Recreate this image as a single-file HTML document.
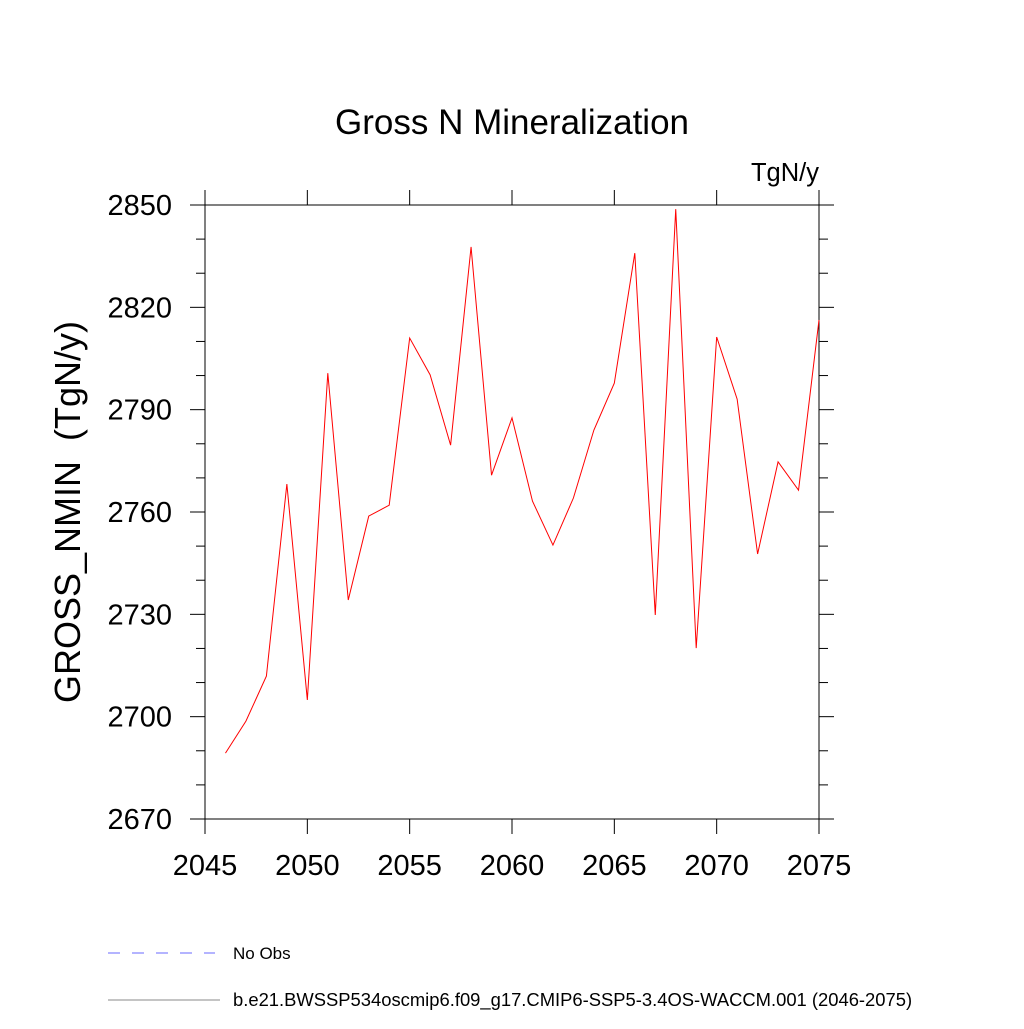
<!DOCTYPE html>
<html><head><meta charset="utf-8"><style>
body{margin:0;background:#fff}
svg text{font-family:"Liberation Sans",sans-serif}
</style></head><body>
<svg id="chart" width="1024" height="1024" xmlns="http://www.w3.org/2000/svg">
<text x="512" y="134" font-size="35" text-anchor="middle">Gross N Mineralization</text>
<text x="819" y="181" font-size="25.5" text-anchor="end">TgN/y</text>
<text transform="translate(80,512) rotate(-90)" font-size="36" text-anchor="middle">GROSS_NMIN&#160; (TgN/y)</text>
<g id="axes"></g>
<polyline id="series" fill="none" stroke="#ff0000" stroke-width="1"/>
<line x1="108" y1="953" x2="215" y2="953" stroke="#6a6aff" stroke-dasharray="12,12"/>
<text x="233" y="959" font-size="17">No Obs</text>
<line x1="108" y1="1000" x2="220" y2="1000" stroke="#888"/>
<text x="233" y="1006" font-size="18.4">b.e21.BWSSP534oscmip6.f09_g17.CMIP6-SSP5-3.4OS-WACCM.001 (2046-2075)</text>
</svg>
<script>
const years=[2046,2047,2048,2049,2050,2051,2052,2053,2054,2055,2056,2057,2058,2059,2060,2061,2062,2063,2064,2065,2066,2067,2068,2069,2070,2071,2072,2073,2074,2075];
const values=[2689.3,2698.7,2711.9,2768.2,2704.9,2800.7,2734.2,2758.8,2762.0,2811.0,2800.2,2779.6,2837.7,2770.8,2787.6,2763.2,2750.3,2764.1,2784.0,2797.8,2835.9,2729.8,2848.8,2720.1,2811.3,2793.1,2747.7,2774.7,2766.4,2816.3];
const xTicks=[2045,2050,2055,2060,2065,2070,2075];
const yTicks=[2670,2700,2730,2760,2790,2820,2850];
const L=205,R=819,T=205,B=819;
const xs=v=>L+(v-2045)/30*(R-L);
const ys=v=>B-(v-2670)/180*(B-T);
const ns="http://www.w3.org/2000/svg";
const g=document.getElementById('axes');
function ln(x1,y1,x2,y2,name){const e=document.createElementNS(ns,'line');
e.setAttribute('x1',x1);e.setAttribute('y1',y1);e.setAttribute('x2',x2);e.setAttribute('y2',y2);e.setAttribute('stroke','#000');e.setAttribute('stroke-width','1');


g.appendChild(e);}
function tx(x,y,s,anchor,name){const e=document.createElementNS(ns,'text');
e.setAttribute('x',x);e.setAttribute('y',y);e.setAttribute('font-size','29');e.setAttribute('text-anchor',anchor);e.textContent=s;


g.appendChild(e);}
const fr=document.createElementNS(ns,'rect');
fr.setAttribute('x',L);fr.setAttribute('y',T);fr.setAttribute('width',R-L);fr.setAttribute('height',B-T);fr.setAttribute('fill','none');fr.setAttribute('stroke','#000');


g.appendChild(fr);
xTicks.forEach(v=>{const x=xs(v);ln(x,B,x,B+15,'x-tick');ln(x,T,x,T-15,'x-tick-top');tx(x,B+56,String(v),'middle','x-tick-label');});
for(let v=2670;v<=2850;v+=10){const y=ys(v);const major=yTicks.includes(v);const len=major?15:9;
ln(L,y,L-len,y,'y-tick');ln(R,y,R+len,y,'y-tick-right');}
yTicks.forEach(v=>tx(L-33,ys(v)+10,String(v),'end','y-tick-label'));
document.getElementById('series').setAttribute('points',years.map((y,i)=>xs(y)+','+ys(values[i])).join(' '));
</script>
</body></html>
